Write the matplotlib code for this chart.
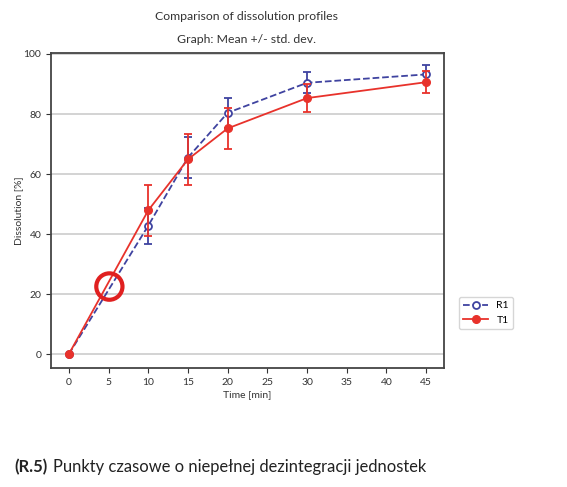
import numpy as np
from matplotlib import pyplot as plt
from matplotlib.patches import Ellipse
from matplotlib.lines import Line2D

plt.rcParams['font.family'] = ['Lato', 'DejaVu Sans']

# time points [min]
time = [0, 10, 15, 20, 30, 45]

# reference product R1 (mean, std)
r1_mean = [0, 42.8, 65.5, 80.4, 90.4, 93.2]
r1_std = [0, 6.0, 6.9, 4.9, 3.5, 3.0]

# test product T1 (mean, std)
t1_mean = [0, 47.9, 64.9, 75.2, 85.3, 90.6]
t1_std = [0, 8.6, 8.6, 6.8, 4.7, 3.6]

xticks = list(range(0, 50, 5))
yticks = [0, 20, 40, 60, 80, 100]

# highlighted time point (incomplete disintegration)
mark_x, mark_y = 5.1, 22.5

blue = '#3f43a0'
red = '#e8322b'

fig = plt.figure(figsize=(5.67, 4.87), dpi=100)
ax = fig.add_axes([0.090, 0.244, 0.693, 0.647])

ax.errorbar(time, r1_mean, yerr=r1_std, color=blue, ls='--', lw=1.3,
            marker='o', mfc='white', mec=blue, ms=5, mew=1.3,
            capsize=3, elinewidth=1.3, capthick=1.3, zorder=3)
ax.errorbar(time, t1_mean, yerr=t1_std, color=red, ls='-', lw=1.3,
            marker='o', mfc=red, mec=red, ms=5.5,
            capsize=3, elinewidth=1.3, capthick=1.3, zorder=4)

ax.set_xlim(-2.25, 47.25)
ax.set_ylim(-4.7, 100.3)
ax.set_xticks(xticks)
ax.set_yticks(yticks)
ax.yaxis.grid(True, color='#cccccc', lw=1.2)
ax.set_axisbelow(True)
ax.tick_params(labelsize=7.5, colors='#333333', length=3.5)
for s in ax.spines.values():
    s.set_color('#444444')
    s.set_linewidth(1.3)

ax.set_xlabel('Time [min]', fontsize=7.5, color='#333333', labelpad=2)
ax.set_ylabel('Dissolution [%]', fontsize=7.5, color='#333333', labelpad=0)

# red ring around the 5 min point
ell = Ellipse((mark_x, mark_y), width=3.3, height=8.8, fill=False,
              ec='#e02020', lw=3, zorder=6)
ax.add_patch(ell)

fig.text(0.435, 0.967, 'Comparison of dissolution profiles', ha='center',
         va='center', fontsize=8.8, color='#333333')
fig.text(0.435, 0.918, 'Graph: Mean +/- std. dev.', ha='center',
         va='center', fontsize=8.8, color='#333333')

handles = [
    Line2D([], [], color=blue, ls='--', lw=1.3, marker='o', mfc='white',
           mec=blue, ms=5, mew=1.3),
    Line2D([], [], color=red, ls='-', lw=1.3, marker='o', mfc=red,
           mec=red, ms=5.5),
]
leg = ax.legend(handles, ['R1', 'T1'], loc='center left',
                bbox_to_anchor=(1.025, 0.175), fontsize=7.5, frameon=True,
                handlelength=2.4)
leg.get_frame().set_edgecolor('#cccccc')

fig.text(0.026, 0.041, '(R.5)', fontsize=11.9, fontweight='bold',
         color='#222222', va='center')
fig.text(0.093, 0.041, 'Punkty czasowe o niepełnej dezintegracji jednostek',
         fontsize=11.9, color='#222222', va='center')

fig.savefig('out.png', dpi=100)
